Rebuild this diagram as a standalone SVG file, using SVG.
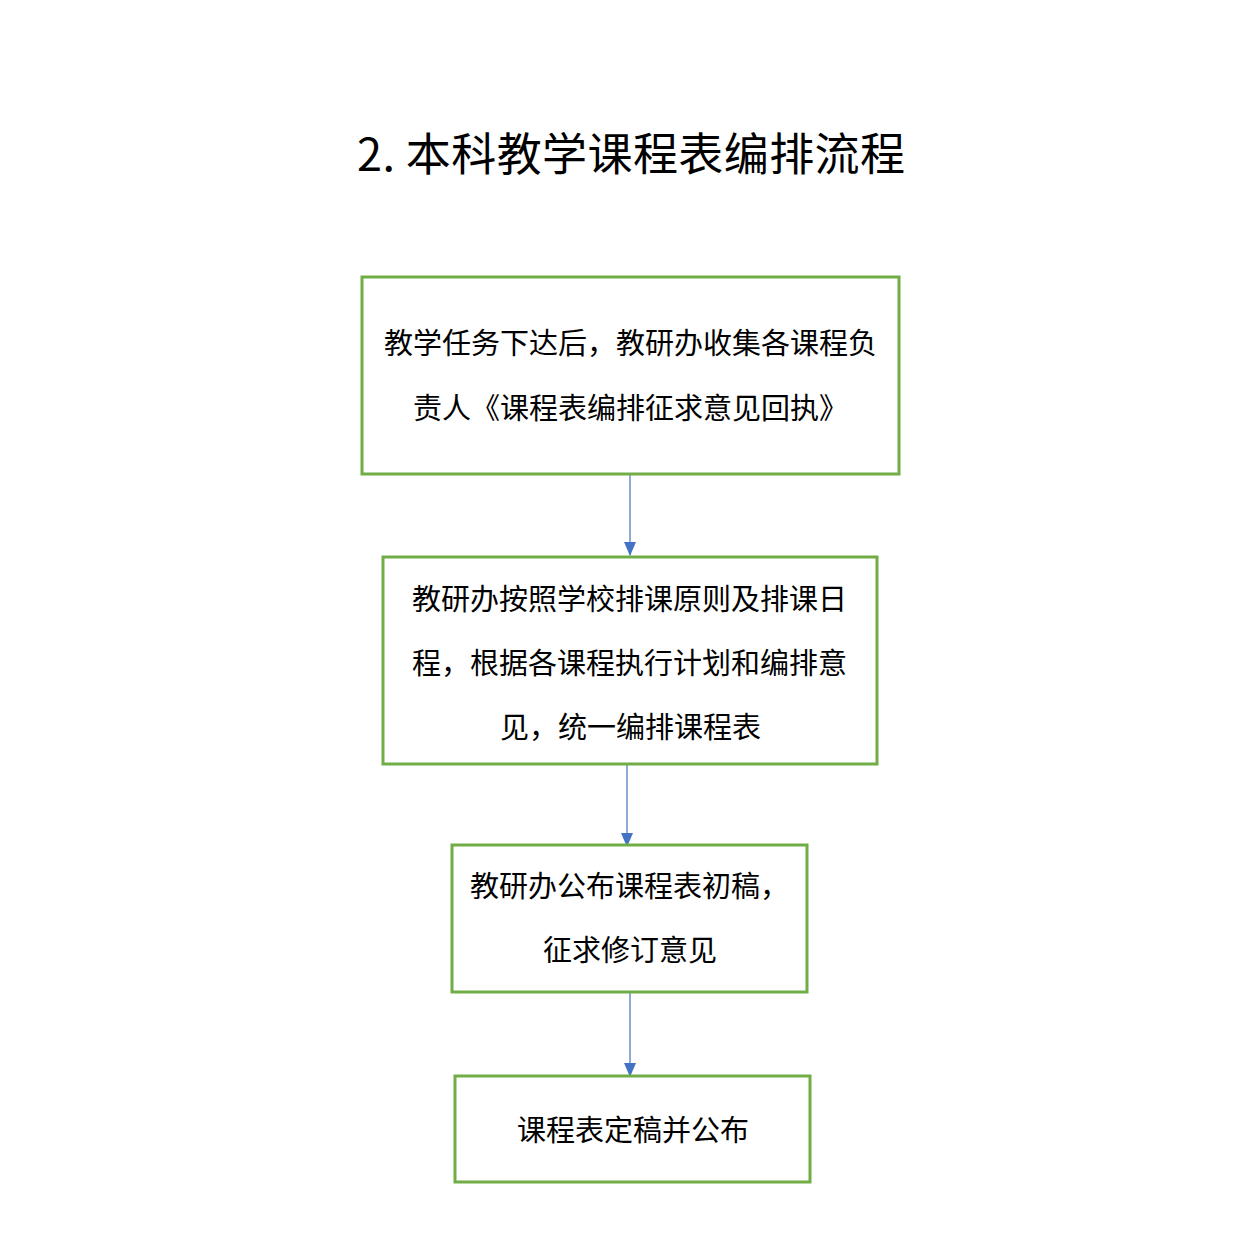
<svg xmlns="http://www.w3.org/2000/svg" width="1241" height="1243" viewBox="0 0 1241 1243">
<style>
.box{fill:#fff;stroke:#70AD47;stroke-width:3}
.t{font-family:"Noto Sans CJK SC","Noto Sans",sans-serif;font-size:29px;fill:#000}
.title{font-family:"Noto Sans CJK SC","Noto Sans",sans-serif;font-size:45px;fill:#000}
.c{stroke:#4472C4;stroke-width:1.2;fill:none;marker-end:url(#arr)}
</style>
<defs>
<marker id="arr" markerWidth="14" markerHeight="14" refX="13" refY="6" orient="auto" markerUnits="userSpaceOnUse" viewBox="0 0 14 12">
<path d="M0,0 L14,6 L0,12 z" fill="#4472C4"/>
</marker>
</defs>
<rect width="1241" height="1243" fill="#fff"/>
<text class="title" x="357" y="171" textLength="548">2. 本科教学课程表编排流程</text>
<g id="connectors">
<line class="c" x1="630" y1="474" x2="630" y2="555"/>
<line class="c" x1="627" y1="764" x2="627" y2="846"/>
<line class="c" x1="630" y1="992" x2="630" y2="1076"/>
</g>
<g id="n1">
<rect class="box" x="362" y="277" width="537" height="197"/>
<text class="t" x="384" y="354">教学任务下达后，教研办收集各课程负</text>
<text class="t" x="413" y="419">责人《课程表编排征求意见回执》</text>
</g>
<g id="n2">
<rect class="box" x="383" y="557" width="494" height="207"/>
<text class="t" x="412" y="610">教研办按照学校排课原则及排课日</text>
<text class="t" x="412" y="674">程，根据各课程执行计划和编排意</text>
<text class="t" x="500" y="738">见，统一编排课程表</text>
</g>
<g id="n3">
<rect class="box" x="452" y="845" width="355" height="147"/>
<text class="t" x="470" y="897">教研办公布课程表初稿，</text>
<text class="t" x="543" y="961">征求修订意见</text>
</g>
<g id="n4">
<rect class="box" x="455" y="1076" width="355" height="106"/>
<text class="t" x="517" y="1141">课程表定稿并公布</text>
</g>
</svg>
